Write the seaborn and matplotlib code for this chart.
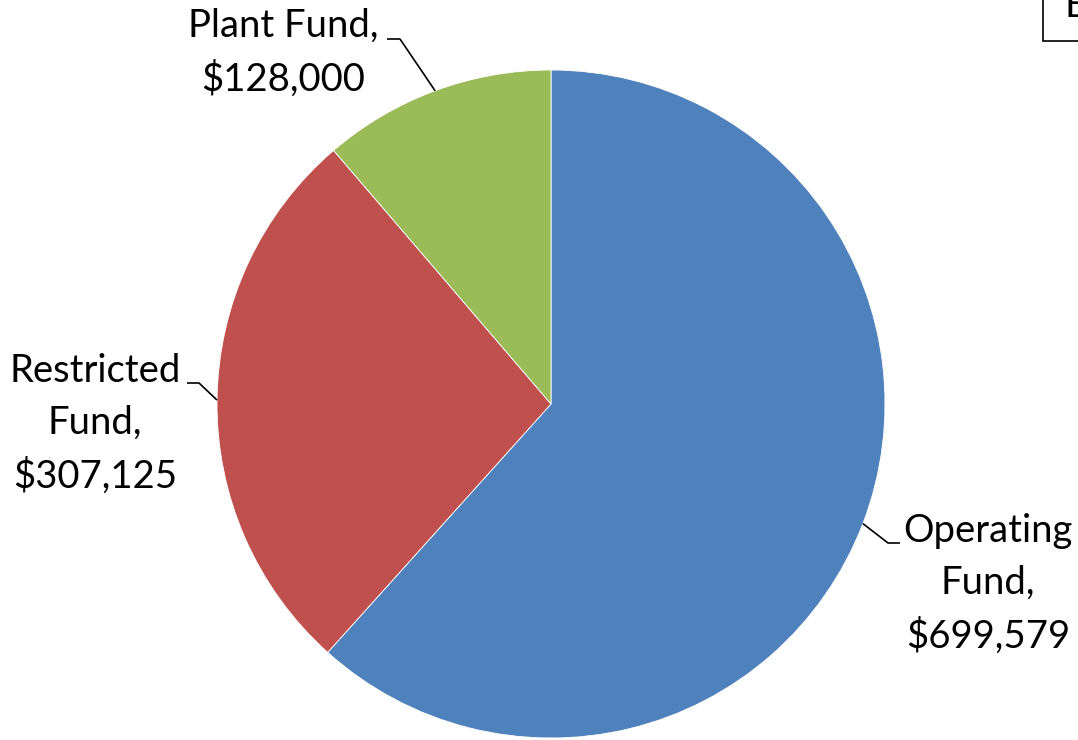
import numpy as np
import matplotlib
matplotlib.use("Agg")
import matplotlib.pyplot as plt
from matplotlib.patches import Rectangle
import seaborn as sns

funds = ["Operating Fund", "Restricted Fund", "Plant Fund"]
amounts = [699579, 307125, 128000]
label_texts = ["Operating\nFund,\n$699,579", "Restricted\nFund,\n$307,125", "Plant Fund,\n$128,000"]
colors = ["#4F81BD", "#C0504D", "#9BBB59"]

sns.set_theme(style="white")
plt.rcParams["font.family"] = ["Lato", "DejaVu Sans"]

W, H = 1078, 740
fig = plt.figure(figsize=(W / 100, H / 100), dpi=100)
ax = fig.add_axes([0, 0, 1, 1])

cx, cy, r = 551, 404, 334
wedges, _ = ax.pie(amounts, colors=colors, startangle=-90, counterclock=True,
                   center=(cx, cy), radius=r, frame=True,
                   wedgeprops=dict(edgecolor="white", linewidth=0.6))
ax.set_xlim(0, W)
ax.set_ylim(H, 0)
ax.set_aspect("equal")
ax.axis("off")

# label placement (text centre) and leader elbows
text_pos = [(988, 584), (95, 424), (283, 53)]
for w, txt, (tx, ty) in zip(wedges, label_texts, text_pos):
    mid = np.deg2rad((w.theta1 + w.theta2) / 2)
    # y axis is inverted, so angles run clockwise on screen
    ax_x = cx + r * np.cos(mid)
    ax_y = cy + r * np.sin(mid)
    if ax_x > cx:
        pts = [(ax_x, ax_y), (888, 543), (900, 543)]
    elif ax_y < 200:
        pts = [(ax_x, ax_y), (400, 39), (387, 39)]
    else:
        pts = [(ax_x, ax_y), (199, 383), (187, 383)]
    xs, ys = zip(*pts)
    ax.plot(xs, ys, color="black", lw=1.2, solid_capstyle="butt")
    ax.text(tx, ty, txt, ha="center", va="center", multialignment="center",
            fontsize=27.5, color="black", linespacing=1.56)

# partially visible title box at top right
ax.add_patch(Rectangle((1043, -5), 60, 46, fill=False, edgecolor="black", lw=1.2,
                       clip_on=False))
ax.text(1064, 17, "E", ha="left", va="baseline", fontsize=27.5, color="black")

fig.savefig("out.png", dpi=100)
